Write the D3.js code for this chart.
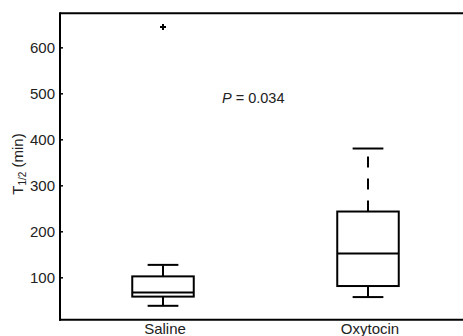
<!DOCTYPE html>
<html>
<head>
<meta charset="utf-8">
<script src="https://cdn.jsdelivr.net/npm/d3@7"></script>
<style>
  body { margin: 0; background: #fff; }
  svg { display: block; font-family: "Liberation Sans", Arial, sans-serif; }
</style>
</head>
<body>
<svg id="chart"></svg>
<script>
// box plot values (minutes)
const groups = ['Saline', 'Oxytocin'];
const whiskerLow = [38, 57];
const q1 = [58, 81];
const median = [67, 152];
const q3 = [102, 243];
const whiskerHigh = [127, 380];
const outliers = [[644], []];
const yTicks = [100, 200, 300, 400, 500, 600];
const pLabel = '0.034';

const width = 463, height = 336;
const margin = { top: 13, right: 0, bottom: 16, left: 60 };

const svg = d3.select('#chart')
  .attr('width', width)
  .attr('height', height);

const x = d3.scaleLinear()
  .domain([0.5, 2.5])
  .range([margin.left + 0.5, margin.left + 0.5 + 410]);

const y = d3.scaleLinear()
  .domain([7.8, 674])
  .range([height - margin.bottom - 0.3, margin.top + 0.3]);

const boxW = x(1.15) - x(1);
const capW = x(1.075) - x(1);

// frame: left axis, bottom axis, top line
svg.append('line')
  .attr('x1', margin.left).attr('x2', width)
  .attr('y1', y.range()[1]).attr('y2', y.range()[1])
  .attr('stroke', '#000').attr('stroke-width', 2);

const yAxis = svg.append('g')
  .attr('transform', `translate(${margin.left},0)`)
  .call(d3.axisLeft(y).tickValues(yTicks).tickSizeInner(-3).tickSizeOuter(0).tickPadding(5));
yAxis.select('.domain').remove();
yAxis.selectAll('.tick line').attr('stroke', '#000').attr('stroke-width', 1.5);
yAxis.selectAll('.tick text')
  .attr('fill', '#222')
  .attr('font-size', 15)
  .attr('font-family', '"Liberation Sans", Arial, sans-serif');

svg.append('line')
  .attr('x1', margin.left).attr('x2', margin.left)
  .attr('y1', y.range()[1] - 1).attr('y2', y.range()[0] + 1)
  .attr('stroke', '#000').attr('stroke-width', 2);

svg.append('line')
  .attr('x1', margin.left - 1).attr('x2', width)
  .attr('y1', y.range()[0]).attr('y2', y.range()[0])
  .attr('stroke', '#000').attr('stroke-width', 2);

// category labels
svg.selectAll('.cat')
  .data(groups)
  .join('text')
  .attr('class', 'cat')
  .attr('x', (d, i) => x(i + 1) + 2)
  .attr('y', 334)
  .attr('text-anchor', 'middle')
  .attr('font-size', 15)
  .attr('fill', '#222')
  .text(d => d);

// y label with subscript
const yl = svg.append('text')
  .attr('transform', `translate(23,${164}) rotate(-90)`)
  .attr('text-anchor', 'middle')
  .attr('font-size', 15)
  .attr('fill', '#222');
yl.append('tspan').text('T');
yl.append('tspan').attr('font-size', 10).attr('dy', 3).text('1/2');
yl.append('tspan').attr('dy', -3).text(' (min)');

// boxes
const g = svg.append('g').attr('stroke', '#000').attr('stroke-width', 2).attr('fill', 'none');

groups.forEach((name, i) => {
  const cx = x(i + 1);

  // whiskers (dashed from the box outwards)
  g.append('line')
    .attr('x1', cx).attr('x2', cx)
    .attr('y1', y(q3[i])).attr('y2', y(whiskerHigh[i]))
    .attr('stroke-dasharray', '11,11');
  g.append('line')
    .attr('x1', cx).attr('x2', cx)
    .attr('y1', y(q1[i])).attr('y2', y(whiskerLow[i]))
    .attr('stroke-dasharray', '11,11');

  // caps
  [whiskerLow[i], whiskerHigh[i]].forEach(v => {
    g.append('line')
      .attr('x1', cx - capW).attr('x2', cx + capW)
      .attr('y1', y(v)).attr('y2', y(v));
  });

  // box
  g.append('rect')
    .attr('x', cx - boxW)
    .attr('y', y(q3[i]))
    .attr('width', boxW * 2)
    .attr('height', y(q1[i]) - y(q3[i]));

  // median
  g.append('line')
    .attr('x1', cx - boxW).attr('x2', cx + boxW)
    .attr('y1', y(median[i])).attr('y2', y(median[i]));

  // outliers as '+'
  outliers[i].forEach(v => {
    const oy = y(v);
    g.append('path')
      .attr('d', `M${cx - 3},${oy}H${cx + 3}M${cx},${oy - 3}V${oy + 3}`);
  });
});

// p value annotation
const pt = svg.append('text')
  .attr('x', 222)
  .attr('y', 103)
  .attr('font-size', 14.5)
  .attr('fill', '#222');
pt.append('tspan').attr('font-style', 'italic').text('P');
pt.append('tspan').text(' = ' + pLabel);
</script>
</body>
</html>
